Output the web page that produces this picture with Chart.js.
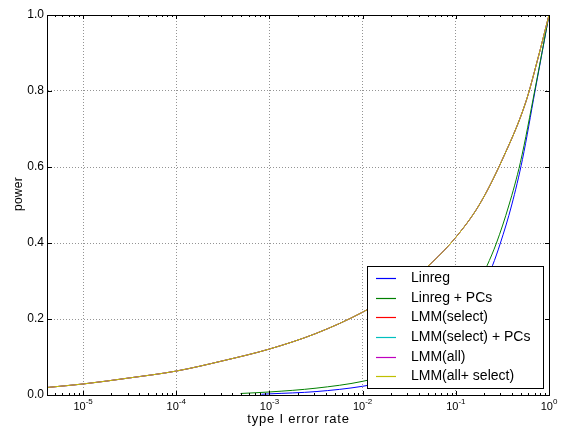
<!DOCTYPE html>
<html>
<head>
<meta charset="utf-8">
<script src="https://cdn.jsdelivr.net/npm/chart.js@4"></script>
<style>
  html, body { margin: 0; padding: 0; background: #fff; }
</style>
</head>
<body>
<canvas id="chart" width="561" height="430"></canvas>
<script>
// Values: x = type I error rate, y = power
const lmmRate = [4.2e-6, 1e-5, 3.16e-5, 1e-4, 3.16e-4, 1e-3, 3.16e-3, 1e-2, 1.78e-2, 3.16e-2, 5.62e-2, 0.1, 0.178, 0.316, 0.562, 0.75, 1]
const lmmPower = [0.020, 0.029, 0.045, 0.063, 0.090, 0.121, 0.162, 0.218, 0.255, 0.298, 0.350, 0.415, 0.500, 0.620, 0.770, 0.880, 1.0]

const linregRate = [8.2e-4, 1e-3, 3.16e-3, 1e-2, 1.78e-2, 3.16e-2, 5.62e-2, 0.1, 0.178, 0.247, 0.301, 0.398, 0.519, 0.708, 1]
const linregPower = [0.002, 0.003, 0.009, 0.023, 0.036, 0.058, 0.095, 0.162, 0.262, 0.340, 0.400, 0.500, 0.620, 0.800, 1.0]

const linregPcRate = [4.9e-4, 1e-3, 3.16e-3, 1e-2, 1.78e-2, 3.16e-2, 5.62e-2, 0.1, 0.158, 0.216, 0.273, 0.372, 0.493, 0.708, 1]
const linregPcPower = [0.004, 0.008, 0.018, 0.036, 0.053, 0.083, 0.128, 0.196, 0.272, 0.340, 0.400, 0.500, 0.612, 0.805, 1.0]

const labels = ['Linreg', 'Linreg + PCs', 'LMM(select)', 'LMM(select) + PCs', 'LMM(all)', 'LMM(all+ select)']
const xTicks = [1e-5, 1e-4, 1e-3, 1e-2, 1e-1, 1]
const yTicks = [0, 0.2, 0.4, 0.6, 0.8, 1]

// matplotlib classic b g r c m y
const COLORS = ['#0000ff', '#008000', '#ff0000', '#00bfbf', '#bf00bf', '#bfbf00']
const FONT = "'Liberation Sans', Arial, sans-serif"
const GRID = 'rgba(0,0,0,0.42)'

const pts = (xs, ys) => xs.map((x, i) => ({ x, y: ys[i] }))
const seriesData = [
  pts(linregRate, linregPower),
  pts(linregPcRate, linregPcPower),
  pts(lmmRate, lmmPower),
  pts(lmmRate, lmmPower),
  pts(lmmRate, lmmPower),
  pts(lmmRate, lmmPower)
]

// Frame, inward tick marks, x labels with exponents, axis titles, boxed legend
const decor = {
  id: 'decor',
  afterDraw(chart) {
    const { ctx, chartArea: a, scales: { x, y } } = chart
    ctx.save()

    // legend
    const bx = a.right - 182, by = a.bottom - 129, bw = 176, bh = 122
    ctx.fillStyle = '#fff'
    ctx.fillRect(bx, by, bw, bh)
    ctx.strokeStyle = '#000'
    ctx.lineWidth = 1
    ctx.strokeRect(bx + 0.5, by + 0.5, bw, bh)
    ctx.font = '14px ' + FONT
    ctx.textBaseline = 'middle'
    ctx.textAlign = 'left'
    chart.data.datasets.forEach((ds, i) => {
      const ry = Math.round(by + 12 + i * 19.66) + 0.5
      ctx.strokeStyle = ds.borderColor
      ctx.lineWidth = 1.2
      ctx.beginPath()
      ctx.moveTo(bx + 9, ry)
      ctx.lineTo(bx + 29, ry)
      ctx.stroke()
      ctx.fillStyle = '#000'
      ctx.fillText(ds.label, bx + 44, ry)
    })

    // frame
    ctx.strokeStyle = '#000'
    ctx.lineWidth = 1
    ctx.strokeRect(a.left - 0.5, a.top + 0.5, a.right - a.left + 1, a.bottom - a.top)

    // inward ticks
    const tick = (x1, y1, x2, y2) => { ctx.beginPath(); ctx.moveTo(x1, y1); ctx.lineTo(x2, y2); ctx.stroke() }
    xTicks.forEach(v => {
      const px = Math.round(x.getPixelForValue(v)) + 0.5
      tick(px, a.bottom, px, a.bottom - 4)
      tick(px, a.top, px, a.top + 4)
    })
    for (let k = -6; k < 0; k++) {
      for (let m = 2; m < 10; m++) {
        const v = m * Math.pow(10, k)
        if (v < x.min || v > x.max) continue
        const px = Math.round(x.getPixelForValue(v)) + 0.5
        tick(px, a.bottom, px, a.bottom - 2)
        tick(px, a.top, px, a.top + 2)
      }
    }
    yTicks.forEach(v => {
      const py = Math.round(y.getPixelForValue(v)) + 0.5
      tick(a.left, py, a.left + 4, py)
      tick(a.right, py, a.right - 4, py)
    })

    // x tick labels: 10 with superscript exponent
    ctx.fillStyle = '#000'
    ctx.textBaseline = 'alphabetic'
    xTicks.forEach(v => {
      const px = x.getPixelForValue(v)
      const exp = String(Math.round(Math.log10(v)))
      ctx.font = '11px ' + FONT
      const w1 = ctx.measureText('10').width
      ctx.font = '8px ' + FONT
      const w2 = ctx.measureText(exp).width
      const x0 = px - (w1 + w2) / 2
      ctx.font = '11px ' + FONT
      ctx.fillText('10', x0, a.bottom + 15)
      ctx.font = '8px ' + FONT
      ctx.fillText(exp, x0 + w1, a.bottom + 9)
    })

    // axis titles
    ctx.font = '13px ' + FONT
    ctx.letterSpacing = '0.8px'
    ctx.textAlign = 'center'
    ctx.fillText('type I error rate', (a.left + a.right) / 2, a.bottom + 28)
    ctx.letterSpacing = '0.3px'
    ctx.font = '12px ' + FONT
    ctx.translate(22, 194)
    ctx.rotate(-Math.PI / 2)
    ctx.fillText('power', 0, 0)
    ctx.restore()
  }
}

new Chart(document.getElementById('chart'), {
  type: 'line',
  data: {
    datasets: seriesData.map((d, i) => ({
      label: labels[i],
      data: d,
      borderColor: COLORS[i],
      backgroundColor: COLORS[i],
      borderWidth: 1,
      pointRadius: 0,
      fill: false,
      cubicInterpolationMode: 'monotone',
      order: seriesData.length - i   // later series drawn on top
    }))
  },
  options: {
    responsive: false,
    animation: false,
    layout: { padding: { top: 15, right: 12, left: 0, bottom: 0 } },
    plugins: { legend: { display: false }, tooltip: { enabled: false } },
    scales: {
      x: {
        type: 'logarithmic',
        min: 4.2e-6,
        max: 1,
        afterBuildTicks: s => { s.ticks = xTicks.map(v => ({ value: v, major: true })) },
        afterFit: s => { s.height = 35 },
        ticks: { display: false },
        grid: { color: GRID, lineWidth: 1, drawTicks: false },
        border: { display: false, dash: [1, 2] }
      },
      y: {
        min: 0,
        max: 1,
        afterBuildTicks: s => { s.ticks = yTicks.map(v => ({ value: v })) },
        afterFit: s => { s.width = 48 },
        ticks: {
          padding: 4,
          color: '#000',
          font: { size: 12, family: FONT },
          callback: v => v.toFixed(1)
        },
        grid: { color: GRID, lineWidth: 1, drawTicks: false },
        border: { display: false, dash: [1, 2] }
      }
    }
  },
  plugins: [decor]
})
</script>
</body>
</html>
